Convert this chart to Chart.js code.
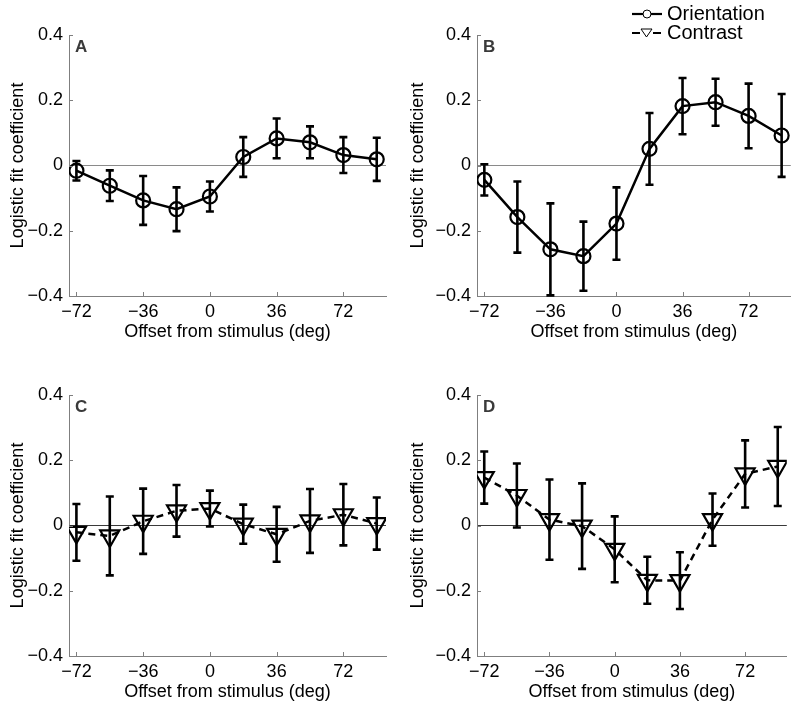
<!DOCTYPE html>
<html>
<head>
<meta charset="utf-8">
<script src="https://cdn.jsdelivr.net/npm/chart.js@4"></script>
<style>
  body { margin: 0; background: #fff; }
  .panel { position: absolute; width: 400px; height: 346px; }
</style>
</head>
<body>
<div class="panel" style="left:0;top:0"><canvas id="chartA" width="400" height="346"></canvas></div>
<div class="panel" style="left:400px;top:0"><canvas id="chartB" width="400" height="346"></canvas></div>
<div class="panel" style="left:0;top:360px"><canvas id="chartC" width="400" height="346"></canvas></div>
<div class="panel" style="left:400px;top:360px"><canvas id="chartD" width="400" height="346"></canvas></div>
<script>
const offsets = [-72, -54, -36, -18, 0, 18, 36, 54, 72, 90];
const xTicks = [-72, -36, 0, 36, 72];
const yTicks = [-0.4, -0.2, 0, 0.2, 0.4];

// panel A: orientation
const orientA    = [-0.016, -0.062, -0.107, -0.134, -0.095, 0.026, 0.083, 0.071, 0.032, 0.019];
const orientAErr = [0.030, 0.047, 0.075, 0.067, 0.046, 0.061, 0.061, 0.049, 0.055, 0.066];
// panel B: orientation
const orientB    = [-0.044, -0.158, -0.257, -0.278, -0.178, 0.051, 0.182, 0.194, 0.152, 0.092];
const orientBErr = [0.048, 0.109, 0.141, 0.106, 0.111, 0.110, 0.086, 0.072, 0.099, 0.127];
// panel C: contrast
const contrC     = [-0.021, -0.032, 0.013, 0.045, 0.052, 0.004, -0.027, 0.014, 0.033, 0.006];
const contrCErr  = [0.087, 0.121, 0.100, 0.079, 0.055, 0.060, 0.084, 0.098, 0.094, 0.080];
// panel D: contrast
const contrD     = [0.147, 0.092, 0.018, -0.002, -0.073, -0.168, -0.169, 0.018, 0.158, 0.181];
const contrDErr  = [0.080, 0.098, 0.123, 0.131, 0.101, 0.072, 0.087, 0.080, 0.103, 0.121];

const FONT = "'Liberation Sans', Arial, sans-serif";
const AXIS_GRAY = '#7f7f7f';

function minus(v) {
  return v < 0 ? '\u2212' + Math.abs(v) : String(v);
}

const panelPlugin = {
  id: 'panelExtras',
  afterDatasetsDraw(chart, args, opts) {
    const ctx = chart.ctx;
    const xs = chart.scales.x, ys = chart.scales.y;
    const area = chart.chartArea;
    ctx.save();
    // inward tick marks
    ctx.strokeStyle = AXIS_GRAY;
    ctx.lineWidth = 1;
    ctx.beginPath();
    xTicks.forEach(t => {
      const px = Math.round(xs.getPixelForValue(t)) + 0.5;
      ctx.moveTo(px, area.bottom);
      ctx.lineTo(px, area.bottom - 4);
    });
    yTicks.forEach(t => {
      const py = Math.round(ys.getPixelForValue(t)) + 0.5;
      ctx.moveTo(area.left, py);
      ctx.lineTo(area.left + 4, py);
    });
    ctx.stroke();
    // error bars
    ctx.strokeStyle = '#000';
    ctx.lineWidth = 2.6;
    opts.values.forEach((v, i) => {
      const px = xs.getPixelForValue(offsets[i]);
      const top = ys.getPixelForValue(v + opts.errors[i]);
      const bot = ys.getPixelForValue(v - opts.errors[i]);
      ctx.beginPath();
      ctx.moveTo(px, top); ctx.lineTo(px, bot);
      ctx.moveTo(px - 4, top); ctx.lineTo(px + 4, top);
      ctx.moveTo(px - 4, bot); ctx.lineTo(px + 4, bot);
      ctx.stroke();
    });
    // panel letter
    ctx.fillStyle = '#3a3a3a';
    ctx.font = 'bold 17px ' + FONT;
    ctx.textBaseline = 'alphabetic';
    ctx.fillText(opts.letter, area.left + 6, area.top + 17);
    // legend
    if (opts.legend) {
      ctx.font = '20px ' + FONT;
      ctx.fillStyle = '#000';
      ctx.textBaseline = 'middle';
      ctx.strokeStyle = '#000';
      ctx.lineWidth = 2.2;
      ctx.beginPath();
      ctx.moveTo(232, 14); ctx.lineTo(262, 14);
      ctx.stroke();
      ctx.lineWidth = 1;
      ctx.beginPath();
      ctx.arc(247, 14, 4, 0, Math.PI * 2);
      ctx.fillStyle = '#fff';
      ctx.fill();
      ctx.stroke();
      ctx.fillStyle = '#000';
      ctx.fillText('Orientation', 267, 14);
      ctx.lineWidth = 2.2;
      ctx.beginPath();
      ctx.moveTo(232, 33); ctx.lineTo(240, 33);
      ctx.moveTo(253, 33); ctx.lineTo(261, 33);
      ctx.stroke();
      ctx.lineWidth = 1;
      ctx.beginPath();
      ctx.moveTo(241, 29); ctx.lineTo(252, 29); ctx.lineTo(246.5, 37); ctx.closePath();
      ctx.stroke();
      ctx.fillText('Contrast', 267, 33);
    }
    ctx.restore();
  }
};

function makePanel(id, letter, values, errors, kind, leftWidth, rightPad, legend) {
  const dashed = kind === 'contrast';
  new Chart(document.getElementById(id), {
    type: 'line',
    data: {
      datasets: [{
        data: offsets.map((x, i) => ({ x: x, y: values[i] })),
        borderColor: '#000',
        borderWidth: 2.5,
        borderDash: dashed ? [7, 5] : [],
        pointStyle: dashed ? 'triangle' : 'circle',
        pointRotation: dashed ? 180 : 0,
        pointRadius: dashed ? 11 : 7,
        pointBorderWidth: 2.2,
        pointBorderColor: '#000',
        pointBackgroundColor: 'rgba(0,0,0,0)',
        tension: 0,
        fill: false
      }]
    },
    options: {
      responsive: false,
      animation: false,
      layout: { padding: { top: 35, right: rightPad, left: 0, bottom: 0 } },
      plugins: {
        legend: { display: false },
        tooltip: { enabled: false },
        panelExtras: { letter: letter, values: values, errors: errors, legend: legend }
      },
      scales: {
        x: {
          type: 'linear',
          min: -76,
          max: 95,
          afterBuildTicks: s => { s.ticks = xTicks.map(v => ({ value: v })); },
          afterFit: s => { s.height = 50; },
          grid: { display: false, drawTicks: false },
          border: { display: true, color: AXIS_GRAY, width: 1 },
          ticks: {
            color: '#000',
            font: { family: FONT, size: 18 },
            padding: 5,
            maxRotation: 0,
            callback: v => minus(v)
          },
          title: {
            display: true,
            text: 'Offset from stimulus (deg)',
            color: '#000',
            font: { family: FONT, size: 18 },
            padding: { top: 0, bottom: 3 }
          }
        },
        y: {
          min: -0.4,
          max: 0.4,
          afterBuildTicks: s => { s.ticks = yTicks.map(v => ({ value: v })); },
          afterFit: s => { s.width = leftWidth; },
          grid: {
            drawTicks: false,
            color: c => (c.tick && c.tick.value === 0) ? (dashed ? '#3a3a3a' : '#8a8a8a') : 'rgba(0,0,0,0)',
            lineWidth: 1
          },
          border: { display: true, color: AXIS_GRAY, width: 1 },
          ticks: {
            color: '#000',
            font: { family: FONT, size: 18 },
            padding: 6,
            callback: v => v === 0 ? '0' : (v < 0 ? '\u2212' : '') + Math.abs(v).toFixed(1)
          },
          title: {
            display: true,
            text: 'Logistic fit coefficient',
            color: '#000',
            font: { family: FONT, size: 18 },
            padding: { top: 7, bottom: 0 }
          }
        }
      }
    },
    plugins: [panelPlugin]
  });
}

makePanel('chartA', 'A', orientA, orientAErr, 'orientation', 69, 14, false);
makePanel('chartB', 'B', orientB, orientBErr, 'orientation', 77, 6, true);
makePanel('chartC', 'C', contrC, contrCErr, 'contrast', 69, 14, false);
makePanel('chartD', 'D', contrD, contrDErr, 'contrast', 77, 6, false);
</script>
</body>
</html>
